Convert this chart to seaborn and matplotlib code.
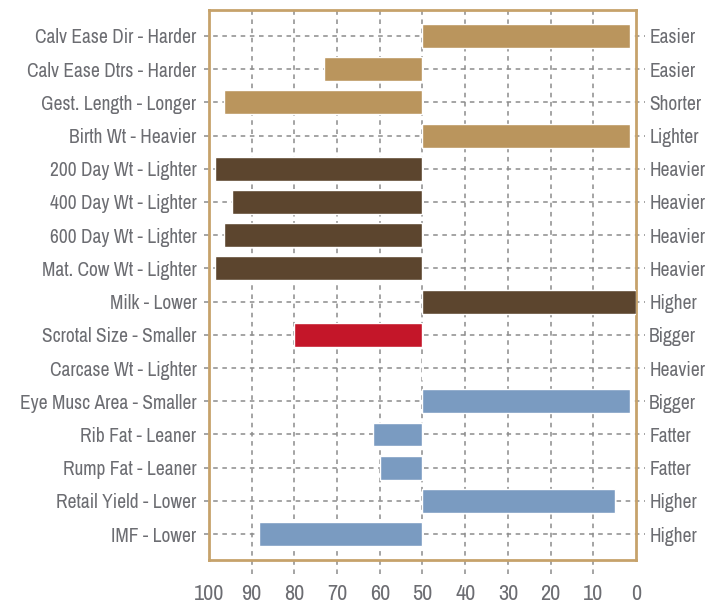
import pandas as pd
import seaborn as sns
import matplotlib.pyplot as plt

# left label, right label, value on the 100..0 scale, colour group
traits = ['Calv Ease Dir - Harder', 'Calv Ease Dtrs - Harder', 'Gest. Length - Longer',
          'Birth Wt - Heavier', '200 Day Wt - Lighter', '400 Day Wt - Lighter',
          '600 Day Wt - Lighter', 'Mat. Cow Wt - Lighter', 'Milk - Lower',
          'Scrotal Size - Smaller', 'Carcase Wt - Lighter', 'Eye Musc Area - Smaller',
          'Rib Fat - Leaner', 'Rump Fat - Leaner', 'Retail Yield - Lower', 'IMF - Lower']
right_labels = ['Easier', 'Easier', 'Shorter', 'Lighter', 'Heavier', 'Heavier', 'Heavier',
                'Heavier', 'Higher', 'Bigger', 'Heavier', 'Bigger', 'Fatter', 'Fatter',
                'Higher', 'Higher']
values = [1.5, 73, 96.5, 1.5, 98.7, 94.5, 96.4, 98.7, 0, 80, 50, 1.5, 61.7, 60, 5, 88.2]
groups = ['calving', 'calving', 'calving', 'calving', 'growth', 'growth', 'growth',
          'growth', 'growth', 'fertility', 'carcase', 'carcase', 'carcase', 'carcase',
          'carcase', 'carcase']
ticks = [100, 90, 80, 70, 60, 50, 40, 30, 20, 10, 0]

palette = {'calving': '#BA955D', 'growth': '#5C452E', 'fertility': '#C41629', 'carcase': '#7A9BC1'}
text_col = '#6C6D72'
grid_col = '#8C8C8C'
spine_col = '#C6A26B'

df = pd.DataFrame({'trait': traits, 'value': values, 'group': groups})
df['offset'] = df['value'] - 50

sns.set_style('white')
plt.rcParams['font.family'] = ['Archivo Narrow', 'Roboto Condensed', 'DejaVu Sans']

fig = plt.figure(figsize=(7.06, 6.06), dpi=100)
ax = fig.add_axes([209 / 706, 1 - 560 / 606, (636 - 209) / 706, 550 / 606])

# bars start at the 50 midline and run to each trait's value
sns.barplot(data=df, x='offset', y='trait', hue='group', palette=palette, dodge=False,
            legend=False, width=0.72, left=50, saturation=1, ax=ax, zorder=3)

ax.set_xlim(100, 0)
ax.set_ylim(len(traits) - 1 + 0.78, -0.78)

# dashed grid, running a little past the frame like the reference
ax.vlines(ticks[1:-1], -0.025, 1, transform=ax.get_xaxis_transform(), colors=grid_col,
          linestyles=(0, (3, 3)), linewidth=1.1, clip_on=False, zorder=1)
ax.hlines(range(len(traits)), -0.012, 1.022, transform=ax.get_yaxis_transform(),
          colors=grid_col, linestyles=(0, (3, 3)), linewidth=1.1, clip_on=False, zorder=1)

ax.set_xticks(ticks)
ax.set_xticklabels([str(t) for t in ticks])
ax.tick_params(axis='x', length=0, pad=17, labelsize=16, labelcolor=text_col)
ax.tick_params(axis='y', length=0, pad=9, labelsize=14, labelcolor=text_col)
ax.set_xlabel('')
ax.set_ylabel('')

for s in ax.spines.values():
    s.set_visible(True)
    s.set_color(spine_col)
    s.set_linewidth(2)

ax2 = ax.twinx()
ax2.set_ylim(ax.get_ylim())
ax2.set_yticks(range(len(traits)))
ax2.set_yticklabels(right_labels)
ax2.tick_params(axis='y', length=0, pad=9.5, labelsize=14, labelcolor=text_col)
for s in ax2.spines.values():
    s.set_visible(False)

fig.savefig('out.png', dpi=100)
